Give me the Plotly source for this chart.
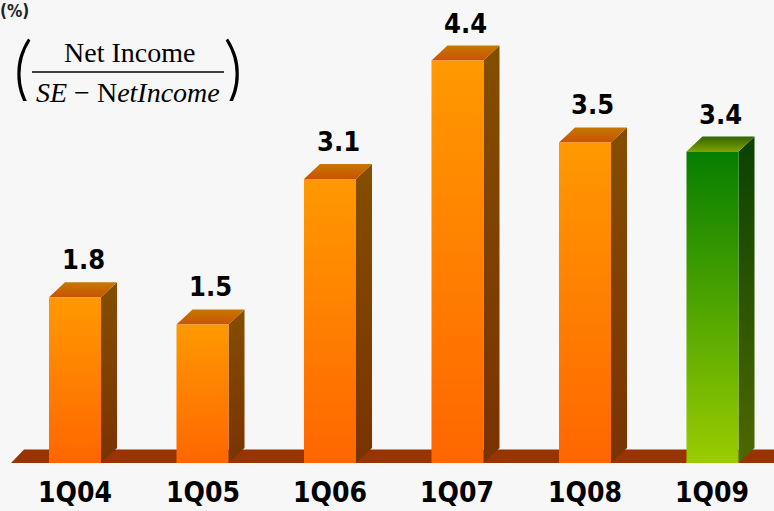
import plotly.graph_objects as go

# Quarterly return figures (%)
quarters = ["1Q04", "1Q05", "1Q06", "1Q07", "1Q08", "1Q09"]
roe = [1.8, 1.5, 3.1, 4.4, 3.5, 3.4]

# Palettes: (front bottom, front top), (side bottom, side top), (top front, top back)
ORANGE = dict(front=("#FF6600", "#FF9900"), side=("#7A3300", "#844E00"), top=("#CC5200", "#C47800"))
GREEN = dict(front=("#9ACC00", "#067E00"), side=("#4E6800", "#0A4200"), top=("#7FA200", "#356400"))
FLOOR = "#993300"
BG = "#F7F7F7"
LABEL_FONT = "Liberation Sans Narrow, Arial Narrow, DejaVu Sans Condensed, Arial, sans-serif"

W = 0.408      # front face width (slot units)
DX = 0.1255    # depth offset along x
DY = 0.165     # depth offset along y (value units)
BASE = -0.022  # bottom of the bars, sitting on the floor slab

FIG_W, FIG_H = 774, 511

fig = go.Figure()


def face(xs, ys, colors):
    fig.add_trace(go.Scatter(
        x=xs + [xs[0]], y=ys + [ys[0]], mode="none", fill="toself",
        fillgradient=dict(type="vertical",
                          colorscale=[[0, colors[0]], [1, colors[1]]]),
        hoverinfo="skip", showlegend=False))


# floor slab
fx0, fdx, fdy = -0.502, 0.102, 0.148
fig.add_trace(go.Scatter(
    x=[fx0, 6.0, 6.0, fx0 + fdx, fx0], y=[BASE, BASE, BASE + fdy, BASE + fdy, BASE],
    mode="none", fill="toself", fillcolor=FLOOR, hoverinfo="skip", showlegend=False))

for i, (q, v) in enumerate(zip(quarters, roe)):
    pal = GREEN if i == len(quarters) - 1 else ORANGE
    x0, x1 = i - W / 2, i + W / 2
    face([x1, x1 + DX, x1 + DX, x1], [BASE, BASE + DY, v + DY, v], pal["side"])
    face([x0, x1, x1 + DX, x0 + DX], [v, v, v + DY, v + DY], pal["top"])
    face([x0, x1, x1, x0], [BASE, BASE, v, v], pal["front"])
    fig.add_annotation(x=i + DX / 2, y=v + DY, text=f"{v:.1f}", showarrow=False,
                       yanchor="bottom", yshift=5,
                       font=dict(family=LABEL_FONT, size=27, color="#000000", weight="bold"))
    fig.add_annotation(x=i, y=-0.345, text=q, showarrow=False,
                       yanchor="middle",
                       font=dict(family=LABEL_FONT, size=28, color="#000000", weight="bold"))


def px(x):
    return x / FIG_W


def py(y):
    return 1 - y / FIG_H


SERIF = "Liberation Serif, Times New Roman, serif"

# unit marker in the top-left corner
fig.add_annotation(xref="paper", yref="paper", x=px(-1), y=py(0), xanchor="left",
                   yanchor="top", text="(%)", showarrow=False, borderpad=0,
                   font=dict(family=LABEL_FONT, size=17, color="#222222", weight="bold"))

# formula: Net Income / (SE - Net Income)
fig.add_annotation(xref="paper", yref="paper", x=px(129), y=py(52), text="Net Income",
                   showarrow=False, xanchor="center", yanchor="middle",
                   font=dict(family=SERIF, size=28, color="#000000"))
fig.add_annotation(xref="paper", yref="paper", x=px(128), y=py(92),
                   text="<i>SE</i> \u2212 N<i>etIncome</i>",
                   showarrow=False, xanchor="center", yanchor="middle",
                   font=dict(family=SERIF, size=28, color="#000000"))
fig.add_shape(type="line", xref="paper", yref="paper", x0=px(32), x1=px(224),
              y0=py(72), y1=py(72), line=dict(color="#000000", width=1.5))
for ch, xc in (("(", 23), (")", 233)):
    fig.add_annotation(xref="paper", yref="paper", x=px(xc), y=py(69), text=ch,
                       showarrow=False, xanchor="center", yanchor="middle", height=64,
                       font=dict(family="Lato, sans-serif", size=78, color="#000000", weight=300))

fig.update_layout(
    width=FIG_W, height=FIG_H, autosize=False,
    margin=dict(l=0, r=0, t=0, b=0),
    paper_bgcolor=BG, plot_bgcolor=BG,
    xaxis=dict(range=[-0.5882, 5.4824], visible=False, fixedrange=True),
    yaxis=dict(range=[-0.5495, 5.0659], visible=False, fixedrange=True),
)

fig.write_html("out.html")
